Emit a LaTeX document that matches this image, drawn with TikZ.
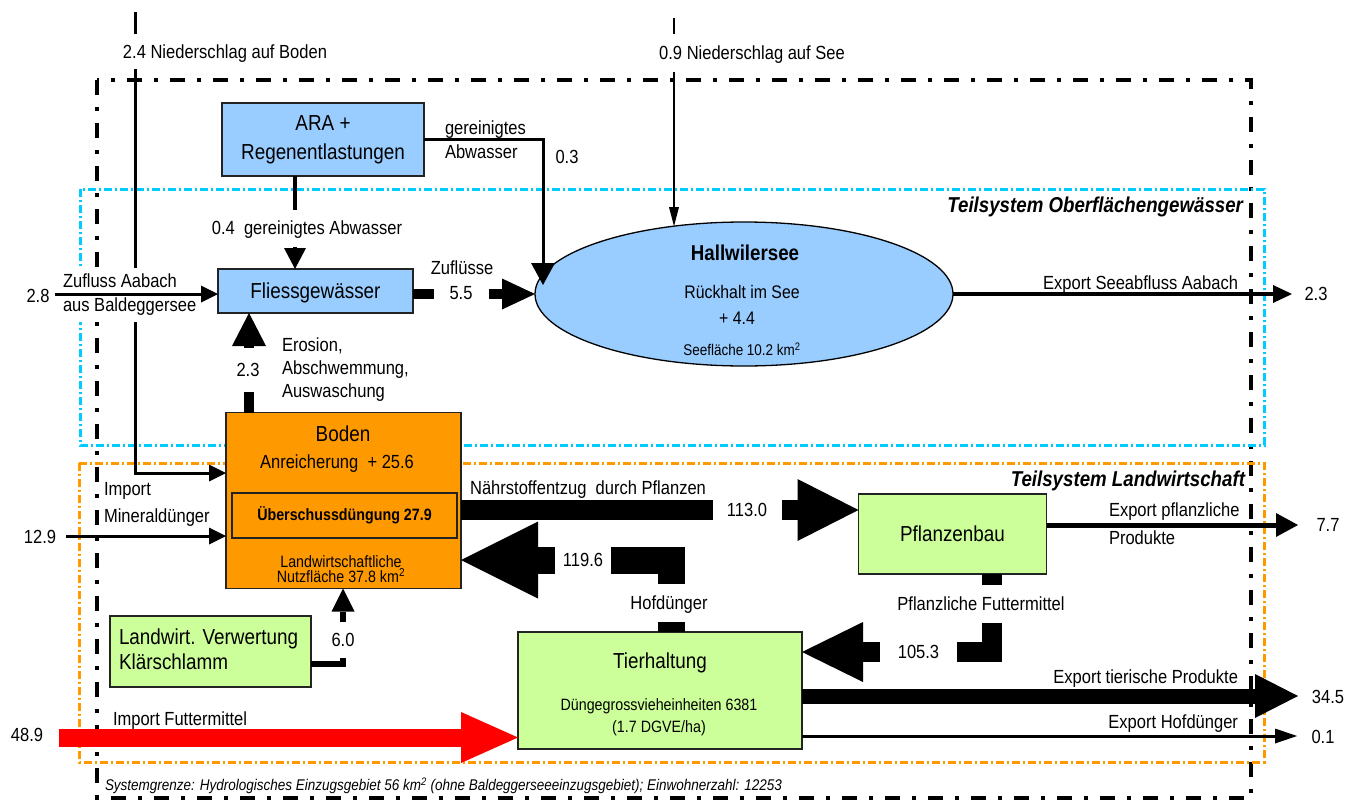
\documentclass[tikz,border=0pt]{standalone}
\usepackage{fontspec}
\setmainfont{Liberation Sans}[FakeStretch=0.87]
\usetikzlibrary{arrows.meta,shapes.geometric}
\definecolor{lblue}{RGB}{153,204,255}
\definecolor{orng}{RGB}{255,153,0}
\definecolor{lgreen}{RGB}{204,255,153}
\definecolor{cyanb}{RGB}{0,204,255}
\definecolor{bord}{RGB}{35,35,35}
\begin{document}
\begin{tikzpicture}[x=1pt,y=-1pt,
 every node/.style={inner sep=0pt, outer sep=0pt},
 lab/.style={font=\fontsize{19}{24}\selectfont, text height=13.6pt, text depth=0pt},
 labm/.style={font=\fontsize{19}{24}\selectfont, align=left},
 wlab/.style={lab, fill=white},
 bigtxt/.style={font=\fontsize{21.7}{29}\selectfont},
 bigcap/.style={bigtxt, text height=15.5pt, text depth=0pt},
 midtxt/.style={font=\fontsize{16.4}{20}\selectfont, text height=11.8pt, text depth=0pt},
 nbox/.style={draw=bord, line width=1.3pt, rectangle},
 sysb/.style={line width=4pt, dash pattern=on 15pt off 12pt on 4pt off 12pt},
 subb/.style={line width=3pt, dash pattern=on 8pt off 3pt on 2pt off 3pt},
 tarrow/.style={line width=3pt, -{Triangle[length=17pt,width=17pt,line width=0pt]}},
 ttl/.style={font=\bfseries\itshape\fontsize{21.5}{26}\selectfont, text height=15.4pt, text depth=0pt},
]
\fill[white] (0,0) rectangle (1357,800);
\useasboundingbox (0,0) rectangle (1357,800);

% system boundaries
\draw[sysb] (97,80) rectangle (1251,797.5);
\draw[subb, draw=cyanb] (80,189) rectangle (1264,445);
\draw[subb, draw=orng] (79,463) rectangle (1264,762);

% boxes
\node[nbox, fill=lblue, minimum width=202pt, minimum height=73pt, bigtxt, align=center] (ara) at (323,139.5) {ARA +\\Regenentlastungen};
\node[nbox, fill=lblue, minimum width=195pt, minimum height=44pt, bigcap] (fliess) at (315.5,291) {Fliessgewässer};
\node[ellipse, draw=black, line width=1.3pt, fill=lblue, minimum width=418pt, minimum height=144pt] (see) at (744,294) {};
\node[font=\bfseries\fontsize{21.5}{26}\selectfont, text height=15.4pt, text depth=0pt] (seet) at (745,253) {Hallwilersee};
\node[font=\fontsize{18.2}{22}\selectfont, text height=13pt, text depth=0pt] (seer) at (742,292) {Rückhalt im See};
\node[font=\fontsize{18.2}{22}\selectfont, text height=13pt, text depth=0pt] (seep) at (737,318) {+ 4.4};
\node[font=\fontsize{15.5}{18}\selectfont, text height=11.1pt, text depth=0pt] (seef) at (742,350) {Seefläche 10.2 km\textsuperscript{2}};

\node[nbox, fill=orng, minimum width=235pt, minimum height=176pt] (boden) at (343.5,500.5) {};
\node[bigcap] (bodent) at (343,434) {Boden};
\node[lab] (anr) at (337,462) {Anreicherung~~+ 25.6};
\node[draw=bord, line width=2pt, fill=orng, minimum width=225pt, minimum height=45pt, font=\bfseries\fontsize{16.4}{20}\selectfont] (ueber) at (344.5,515.5) {Überschussdüngung 27.9};
\node[midtxt] (lwf1) at (341,562) {Landwirtschaftliche};
\node[midtxt] (lwf2) at (341,577) {Nutzfläche 37.8 km\textsuperscript{2}};

\node[nbox, fill=lgreen, minimum width=188pt, minimum height=80pt, bigcap] (pflanz) at (952.5,534) {Pflanzenbau};
\node[nbox, fill=lgreen, minimum width=284pt, minimum height=117pt] (tier) at (660,690.5) {};
\node[bigcap] (tiert) at (660,661) {Tierhaltung};
\node[midtxt] (dgve1) at (659,705) {Düngegrossvieheinheiten 6381};
\node[midtxt] (dgve2) at (659,727) {(1.7 DGVE/ha)};
\node[nbox, fill=lgreen, minimum width=201pt, minimum height=71pt] (klaer) at (210.5,651.5) {};
\node[bigtxt, align=left, anchor=west, font=\fontsize{21.7}{25}\selectfont] (klaert) at (119,649.5) {Landwirt. Verwertung\\Klärschlamm};

% free ends and helper coordinates
\coordinate (n24) at (135,12);
\coordinate (y473) at (0,473);
\coordinate (n09) at (674,18);
\coordinate (x295) at (295,0);
\coordinate (s28) at (55,294);
\coordinate (s23) at (1292,294);
\coordinate (x249) at (249,0);
\coordinate (s129) at (66,536);
\coordinate (y510) at (0,510);
\coordinate (s77) at (1298,525);
\coordinate (x671) at (671,0);
\coordinate (y560) at (0,560);
\coordinate (x991) at (991.5,0);
\coordinate (y652) at (0,652);
\coordinate (s345) at (1298,696);
\coordinate (s01) at (1297,736);
\coordinate (s489) at (59,737.5);
\coordinate (x343) at (343,0);
\coordinate (y664) at (0,664);

% 2.4 Niederschlag auf Boden
\draw[tarrow] (n24) -- (n24 |- y473) -- (boden.west |- y473);
\node[wlab, minimum height=35pt] (l24) at (225,52) {2.4 Niederschlag auf Boden};
% 0.9 Niederschlag auf See
\draw[line width=2.5pt, -{Triangle[length=19pt,width=10pt,line width=0pt]}] (n09) -- (n09 |- see.136);
\node[wlab, minimum height=38pt] (l09) at (752,53) {0.9 Niederschlag auf See};
% ARA -> See
\draw[line width=3pt, -{Triangle[length=22pt,width=24pt,line width=0pt]}] (ara.east) -| ([xshift=8pt,yshift=9pt]see.west);
\node[lab, anchor=west] (lga1) at (445,128) {gereinigtes};
\node[lab, anchor=west] (lga2) at (445,152) {Abwasser};
\node[lab] (l03) at (567,157) {0.3};
% ARA -> Fliessgewaesser
\draw[line width=3.5pt, -{Triangle[length=21pt,width=22pt,line width=0pt]}] (ara.south -| x295) -- (fliess.north -| x295);
\node[wlab, minimum height=37pt] (l04) at (307,228) {0.4~~gereinigtes Abwasser};
% Zufluss Aabach
\node[labm, fill=white, anchor=west, inner ysep=6pt] (lzu) at (63,295) {Zufluss Aabach\\aus Baldeggersee};
\draw[tarrow] (s28) -- (fliess.west |- s28);
\node[lab] (l28) at (38,296) {2.8};
% Zufluesse
\draw[line width=10pt, -{Triangle[length=33pt,width=31pt,line width=0pt]}] (fliess.east |- see.west) -- (see.west);
\node[wlab, minimum width=55pt, minimum height=14pt] (l55) at (461,293) {5.5};
\node[lab] (lzfl) at (462,268) {Zuflüsse};
% Export Seeabfluss
\draw[line width=4pt, -{Triangle[length=19pt,width=18pt,line width=0pt]}] (see.east) -- (s23);
\node[lab, anchor=east] (lexs) at (1238,283) {Export Seeabfluss Aabach};
\node[lab] (l23b) at (1316,294) {2.3};
% Erosion
\draw[line width=10pt, -{Triangle[length=33pt,width=34pt,line width=0pt]}] (boden.north -| x249) -- (fliess.south -| x249);
\node[wlab, minimum width=24pt, minimum height=44pt] (l23) at (248,370) {2.3};
\node[labm, anchor=west, font=\fontsize{19}{23}\selectfont] (lero) at (282,370) {Erosion,\\Abschwemmung,\\Auswaschung};
% Import Mineralduenger
\draw[tarrow] (s129) -- (boden.west |- s129);
\node[lab] (l129) at (40,537) {12.9};
\node[labm, anchor=west, font=\fontsize{19}{27}\selectfont] (limd) at (104,504) {Import\\Mineraldünger};
% Teilsystem titles
\node[ttl, anchor=east] (tso) at (1243,205) {Teilsystem Oberflächengewässer};
\node[ttl, anchor=east] (tsl) at (1245,479) {Teilsystem Landwirtschaft};
% Naehrstoffentzug
\draw[line width=20pt, -{Triangle[length=61pt,width=62pt,line width=0pt]}] (boden.east |- y510) -- (pflanz.west |- y510);
\node[wlab, minimum width=69pt, minimum height=22pt] (l113) at (747,510) {113.0};
\node[lab] (lnae) at (588,488) {Nährstoffentzug~~durch Pflanzen};
% Export pflanzliche Produkte
\draw[line width=5pt, -{Triangle[length=22pt,width=24pt,line width=0pt]}] (pflanz.east |- s77) -- (s77);
\node[lab, anchor=west] (lep1) at (1109,510) {Export pflanzliche};
\node[lab, anchor=west] (lep2) at (1109,538) {Produkte};
\node[lab] (l77) at (1328,525) {7.7};
% Hofduenger 119.6
\draw[line width=27pt, -{Triangle[length=77pt,width=77pt,line width=0pt]}] (tier.north -| x671) -- (x671 |- y560) -- (boden.east |- y560);
\node[wlab, minimum height=38pt] (lhof) at (669,603) {Hofdünger};
\node[wlab, minimum width=56pt, minimum height=30pt] (l1196) at (583,560) {119.6};
% Pflanzliche Futtermittel 105.3
\draw[line width=20pt, -{Triangle[length=61pt,width=60pt,line width=0pt]}] (pflanz.south -| x991) -- (x991 |- y652) -- (tier.east |- y652);
\node[wlab, minimum height=38pt] (lpfm) at (981,604) {Pflanzliche Futtermittel};
\node[wlab, minimum width=77pt, minimum height=22pt] (l1053) at (918.5,652) {105.3};
% Export tierische Produkte
\draw[line width=15pt, -{Triangle[length=43pt,width=44pt,line width=0pt]}] (tier.east |- s345) -- (s345);
\node[lab, anchor=east] (letp) at (1238,677) {Export tierische Produkte};
\node[lab] (l345) at (1328,697) {34.5};
% Export Hofduenger
\draw[line width=3pt, -{Triangle[length=22pt,width=15pt,line width=0pt]}] (tier.east |- s01) -- (s01);
\node[lab, anchor=east] (lehd) at (1238,722) {Export Hofdünger};
\node[lab] (l01) at (1323,737) {0.1};
% Import Futtermittel
\draw[red, line width=18pt, -{Triangle[length=57pt,width=51pt,line width=0pt]}] (s489) -- (tier.west |- s489);
\node[lab] (l489) at (27,735) {48.9};
\node[lab, anchor=west] (lifm) at (113,719) {Import Futtermittel};
% Klaerschlamm 6.0
\draw[line width=6pt, -{Triangle[length=23pt,width=23pt,line width=0pt]}] (klaer.east |- y664) -- (x343 |- y664) -- (boden.south -| x343);
\node[wlab, minimum width=30pt, minimum height=36pt] (l60) at (343,640) {6.0};
% footer
\node[font=\itshape\fontsize{15.5}{18}\selectfont, text height=11.1pt, text depth=0pt, anchor=west] (foot) at (105,785) {Systemgrenze: Hydrologisches Einzugsgebiet 56 km\textsuperscript{2} (ohne Baldeggerseeeinzugsgebiet); Einwohnerzahl: 12253};
\end{tikzpicture}
\end{document}
